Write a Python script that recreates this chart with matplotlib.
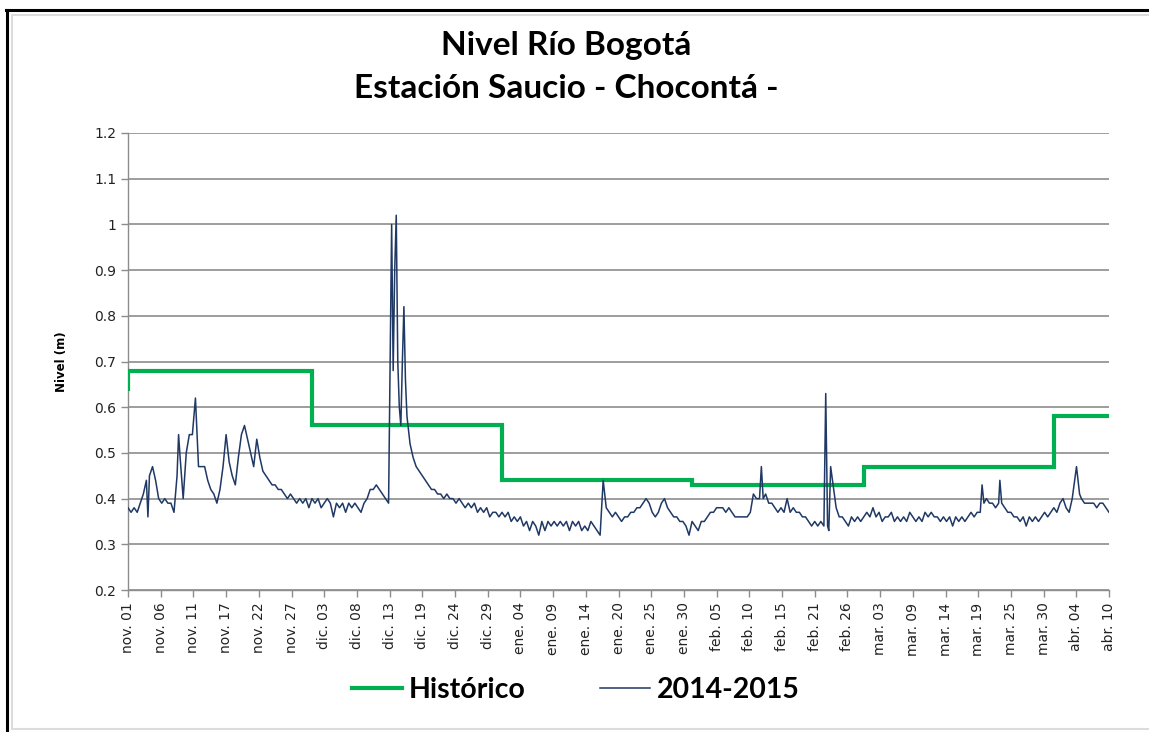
import matplotlib
matplotlib.use("Agg")
import matplotlib.pyplot as plt
from matplotlib.lines import Line2D
import pandas as pd

# ---------------- data ----------------
inicio = pd.Timestamp("2014-11-01")
fin = pd.Timestamp("2015-04-10")

# 2014-2015 series: offset in days from nov. 01, and level (m)
dias = [
    0.0, 0.5, 1.0, 1.5, 2.0, 2.5, 3.0, 3.25, 3.5, 4.0, 4.5, 5.0, 5.5, 6.0, 6.5, 7.0, 7.5,
    8.0, 8.25, 8.5, 9.0, 9.5, 10.0, 10.5, 11.0, 11.5, 12.0, 12.5, 13.0, 13.5, 14.0, 14.5,
    15.0, 15.5, 16.0, 16.5, 17.0, 17.5, 18.0, 18.5, 19.0, 19.5, 20.0, 20.5, 21.0, 21.5,
    22.0, 22.5, 23.0, 23.5, 24.0, 24.5, 25.0, 25.5, 26.0, 26.5, 27.0, 27.5, 28.0, 28.5,
    29.0, 29.5, 30.0, 30.5, 31.0, 31.5, 32.0, 32.5, 33.0, 33.5, 34.0, 34.5, 35.0, 35.5,
    36.0, 36.5, 37.0, 37.5, 38.0, 38.5, 39.0, 39.5, 40.0, 40.5, 41.0, 41.5, 42.0, 42.5,
    43.0, 43.25, 43.5, 43.75, 44.0, 44.25, 44.5, 44.75, 45.0, 45.25, 45.5, 46.0, 46.5,
    47.0, 47.5, 48.0, 48.5, 49.0, 49.5, 50.0, 50.5, 51.0, 51.5, 52.0, 52.5, 53.0, 53.5,
    54.0, 54.5, 55.0, 55.5, 56.0, 56.5, 57.0, 57.5, 58.0, 58.5, 59.0, 59.5, 60.0, 60.5,
    61.0, 61.5, 62.0, 62.5, 63.0, 63.5, 64.0, 64.5, 65.0, 65.5, 66.0, 66.5, 67.0, 67.5,
    68.0, 68.5, 69.0, 69.5, 70.0, 70.5, 71.0, 71.5, 72.0, 72.5, 73.0, 73.5, 74.0, 74.5,
    75.0, 75.5, 76.0, 76.5, 77.0, 77.5, 78.0, 78.5, 79.0, 79.5, 80.0, 80.5, 81.0, 81.5,
    82.0, 82.5, 83.0, 83.5, 84.0, 84.5, 85.0, 85.5, 86.0, 86.5, 87.0, 87.5, 88.0, 88.5,
    89.0, 89.5, 90.0, 90.5, 91.0, 91.5, 92.0, 92.5, 93.0, 93.5, 94.0, 94.5, 95.0, 95.5,
    96.0, 96.5, 97.0, 97.5, 98.0, 98.5, 99.0, 99.5, 100.0, 100.5, 101.0, 101.5, 102.0,
    102.5, 103.0, 103.3, 103.6, 104.0, 104.5, 105.0, 105.5, 106.0, 106.5, 107.0, 107.5,
    108.0, 108.5, 109.0, 109.5, 110.0, 110.5, 111.0, 111.5, 112.0, 112.5, 113.0, 113.5,
    113.8, 114.1, 114.3, 114.6, 115.0, 115.5, 116.0, 116.5, 117.0, 117.5, 118.0, 118.5,
    119.0, 119.5, 120.0, 120.5, 121.0, 121.5, 122.0, 122.5, 123.0, 123.5, 124.0, 124.5,
    125.0, 125.5, 126.0, 126.5, 127.0, 127.5, 128.0, 128.5, 129.0, 129.5, 130.0, 130.5,
    131.0, 131.5, 132.0, 132.5, 133.0, 133.5, 134.0, 134.5, 135.0, 135.5, 136.0, 136.5,
    137.0, 137.5, 138.0, 138.5, 139.0, 139.3, 139.6, 140.0, 140.5, 141.0, 141.5, 142.0,
    142.2, 142.5, 143.0, 143.5, 144.0, 144.5, 145.0, 145.5, 146.0, 146.5, 147.0, 147.5,
    148.0, 148.5, 149.0, 149.5, 150.0, 150.5, 151.0, 151.5, 152.0, 152.5, 153.0, 153.5,
    154.0, 154.7, 155.2, 155.5, 156.0, 156.5, 157.0, 157.5, 158.0, 158.5, 159.0, 159.5,
    160.0,
]
nivel_2014_2015 = [
    0.38, 0.37, 0.38, 0.37, 0.39, 0.41, 0.44, 0.36, 0.45, 0.47, 0.44, 0.40, 0.39, 0.40, 0.39, 0.39, 0.37,
    0.45, 0.54, 0.49, 0.40, 0.50, 0.54, 0.54, 0.62, 0.47, 0.47, 0.47, 0.44, 0.42, 0.41, 0.39,
    0.42, 0.47, 0.54, 0.48, 0.45, 0.43, 0.49, 0.54, 0.56, 0.53, 0.50, 0.47, 0.53, 0.49,
    0.46, 0.45, 0.44, 0.43, 0.43, 0.42, 0.42, 0.41, 0.40, 0.41, 0.40, 0.39, 0.40, 0.39,
    0.40, 0.38, 0.40, 0.39, 0.40, 0.38, 0.39, 0.40, 0.39, 0.36, 0.39, 0.38, 0.39, 0.37,
    0.39, 0.38, 0.39, 0.38, 0.37, 0.39, 0.40, 0.42, 0.42, 0.43, 0.42, 0.41, 0.40, 0.39,
    1.00, 0.68, 0.90, 1.02, 0.70, 0.60, 0.56, 0.70, 0.82, 0.66, 0.58, 0.52, 0.49,
    0.47, 0.46, 0.45, 0.44, 0.43, 0.42, 0.42, 0.41, 0.41, 0.40, 0.41, 0.40, 0.40, 0.39,
    0.40, 0.39, 0.38, 0.39, 0.38, 0.39, 0.37, 0.38, 0.37, 0.38, 0.36, 0.37, 0.37, 0.36,
    0.37, 0.36, 0.37, 0.35, 0.36, 0.35, 0.36, 0.34, 0.35, 0.33, 0.35, 0.34, 0.32, 0.35,
    0.33, 0.35, 0.34, 0.35, 0.34, 0.35, 0.34, 0.35, 0.33, 0.35, 0.34, 0.35, 0.33, 0.34,
    0.33, 0.35, 0.34, 0.33, 0.32, 0.44, 0.38, 0.37, 0.36, 0.37, 0.36, 0.35, 0.36, 0.36,
    0.37, 0.37, 0.38, 0.38, 0.39, 0.40, 0.39, 0.37, 0.36, 0.37, 0.39, 0.40, 0.38, 0.37,
    0.36, 0.36, 0.35, 0.35, 0.34, 0.32, 0.35, 0.34, 0.33, 0.35, 0.35, 0.36, 0.37, 0.37,
    0.38, 0.38, 0.38, 0.37, 0.38, 0.37, 0.36, 0.36, 0.36, 0.36, 0.36, 0.37, 0.41,
    0.40, 0.40, 0.47, 0.40, 0.41, 0.39, 0.39, 0.38, 0.37, 0.38, 0.37, 0.40,
    0.37, 0.38, 0.37, 0.37, 0.36, 0.36, 0.35, 0.34, 0.35, 0.34, 0.35, 0.34,
    0.63, 0.34, 0.33, 0.47, 0.43, 0.38, 0.36, 0.36, 0.35, 0.34, 0.36, 0.35,
    0.36, 0.35, 0.36, 0.37, 0.36, 0.38, 0.36, 0.37, 0.35, 0.36, 0.36, 0.37,
    0.35, 0.36, 0.35, 0.36, 0.35, 0.37, 0.36, 0.35, 0.36, 0.35, 0.37, 0.36,
    0.37, 0.36, 0.36, 0.35, 0.36, 0.35, 0.36, 0.34, 0.36, 0.35, 0.36, 0.35,
    0.36, 0.37, 0.36, 0.37, 0.37, 0.43, 0.39, 0.40, 0.39, 0.39, 0.38, 0.39,
    0.44, 0.39, 0.38, 0.37, 0.37, 0.36, 0.36, 0.35, 0.36, 0.34, 0.36, 0.35,
    0.36, 0.35, 0.36, 0.37, 0.36, 0.37, 0.38, 0.37, 0.39, 0.40, 0.38, 0.37,
    0.40, 0.47, 0.41, 0.40, 0.39, 0.39, 0.39, 0.39, 0.38, 0.39, 0.39, 0.38,
    0.37,
]

# Historical monthly level (step series)
hist_fechas = ["2014-11-01", "2014-11-01", "2014-12-01", "2015-01-01", "2015-02-01",
               "2015-03-01", "2015-04-01", "2015-04-10"]
hist_nivel = [0.64, 0.68, 0.56, 0.44, 0.43, 0.47, 0.58, 0.58]

tick_labels = ["nov. 01", "nov. 06", "nov. 11", "nov. 17", "nov. 22", "nov. 27",
               "dic. 03", "dic. 08", "dic. 13", "dic. 19", "dic. 24", "dic. 29",
               "ene. 04", "ene. 09", "ene. 14", "ene. 20", "ene. 25", "ene. 30",
               "feb. 05", "feb. 10", "feb. 15", "feb. 21", "feb. 26",
               "mar. 03", "mar. 09", "mar. 14", "mar. 19", "mar. 25", "mar. 30",
               "abr. 04", "abr. 10"]

titulo_1 = "Nivel Río Bogotá"
titulo_2 = "Estación Saucio - Chocontá -"

# ---------------- plot ----------------
W, H = 1149, 732
fig = plt.figure(figsize=(W / 100, H / 100), dpi=100)
fig.patch.set_facecolor("white")

# frame decorations
fig.add_artist(Line2D([6 / W, 1], [1 - 10 / H, 1 - 10 / H], color="black", lw=2.2,
                      transform=fig.transFigure))
fig.add_artist(Line2D([7 / W, 7 / W], [1 - 10 / H, 0], color="black", lw=2.2,
                      transform=fig.transFigure))
fig.add_artist(Line2D([12 / W, 1], [1 - 15 / H, 1 - 15 / H], color="#dcdcdc", lw=1.5,
                      transform=fig.transFigure))
fig.add_artist(Line2D([12 / W, 12 / W], [1 - 15 / H, 1 - 729 / H], color="#dcdcdc", lw=1.5,
                      transform=fig.transFigure))
fig.add_artist(Line2D([12 / W, 1], [1 - 729 / H, 1 - 729 / H], color="#dcdcdc", lw=1.5,
                      transform=fig.transFigure))

ax = fig.add_axes([128 / W, 1 - 590 / H, (1109 - 128) / W, (590 - 133) / H])

t = [inicio + pd.Timedelta(days=d) for d in dias]
th = pd.to_datetime(hist_fechas)

l1, = ax.plot(th, hist_nivel, drawstyle="steps-post", color="#00B050", lw=3.0,
              solid_joinstyle="miter", zorder=3, label="Histórico")
l2, = ax.plot(t, nivel_2014_2015, color="#1F3864", lw=1.1, zorder=4, label="2014-2015")

ax.set_ylim(0.2, 1.2)
ax.set_yticks([0.2, 0.3, 0.4, 0.5, 0.6, 0.7, 0.8, 0.9, 1.0, 1.1, 1.2])
ax.set_yticklabels(["0.2", "0.3", "0.4", "0.5", "0.6", "0.7", "0.8", "0.9", "1", "1.1", "1.2"])
ax.set_xlim(inicio, fin)
span = (fin - inicio) / (len(tick_labels) - 1)
ticks = [inicio + span * i for i in range(len(tick_labels))]
ax.set_xticks(ticks)
ax.set_xticklabels(tick_labels, rotation=90)

ax.grid(axis="y", color="#8c8c8c", lw=1.2)
ax.set_axisbelow(True)
for s in ["top", "right"]:
    ax.spines[s].set_visible(False)
for s in ["left", "bottom"]:
    ax.spines[s].set_color("#8c8c8c")
    ax.spines[s].set_linewidth(1.0)
ax.tick_params(axis="both", colors="#8c8c8c", length=5, width=1.0, labelcolor="#222222",
               labelsize=10)
ax.tick_params(axis="x", pad=4)
for lab in ax.get_xticklabels() + ax.get_yticklabels():
    lab.set_fontfamily("DejaVu Sans")

ax.set_ylabel("Nivel (m)", fontsize=8.5, fontweight="bold", labelpad=19)

fig.text(566 / W, 1 - 45 / H, titulo_1, ha="center", va="center", fontsize=24,
         fontweight="bold", family="Lato", color="black")
fig.text(566 / W, 1 - 88 / H, titulo_2, ha="center", va="center", fontsize=24,
         fontweight="bold", family="Lato", color="black")

leg = fig.legend(handles=[l1, l2], loc="center", bbox_to_anchor=(576 / W, 1 - 690 / H),
                 ncol=2, frameon=False, prop={"family": "Lato", "weight": "bold", "size": 20.5},
                 handlelength=1.75, columnspacing=2.6, handletextpad=0.25)

fig.savefig("out.png", dpi=100)
